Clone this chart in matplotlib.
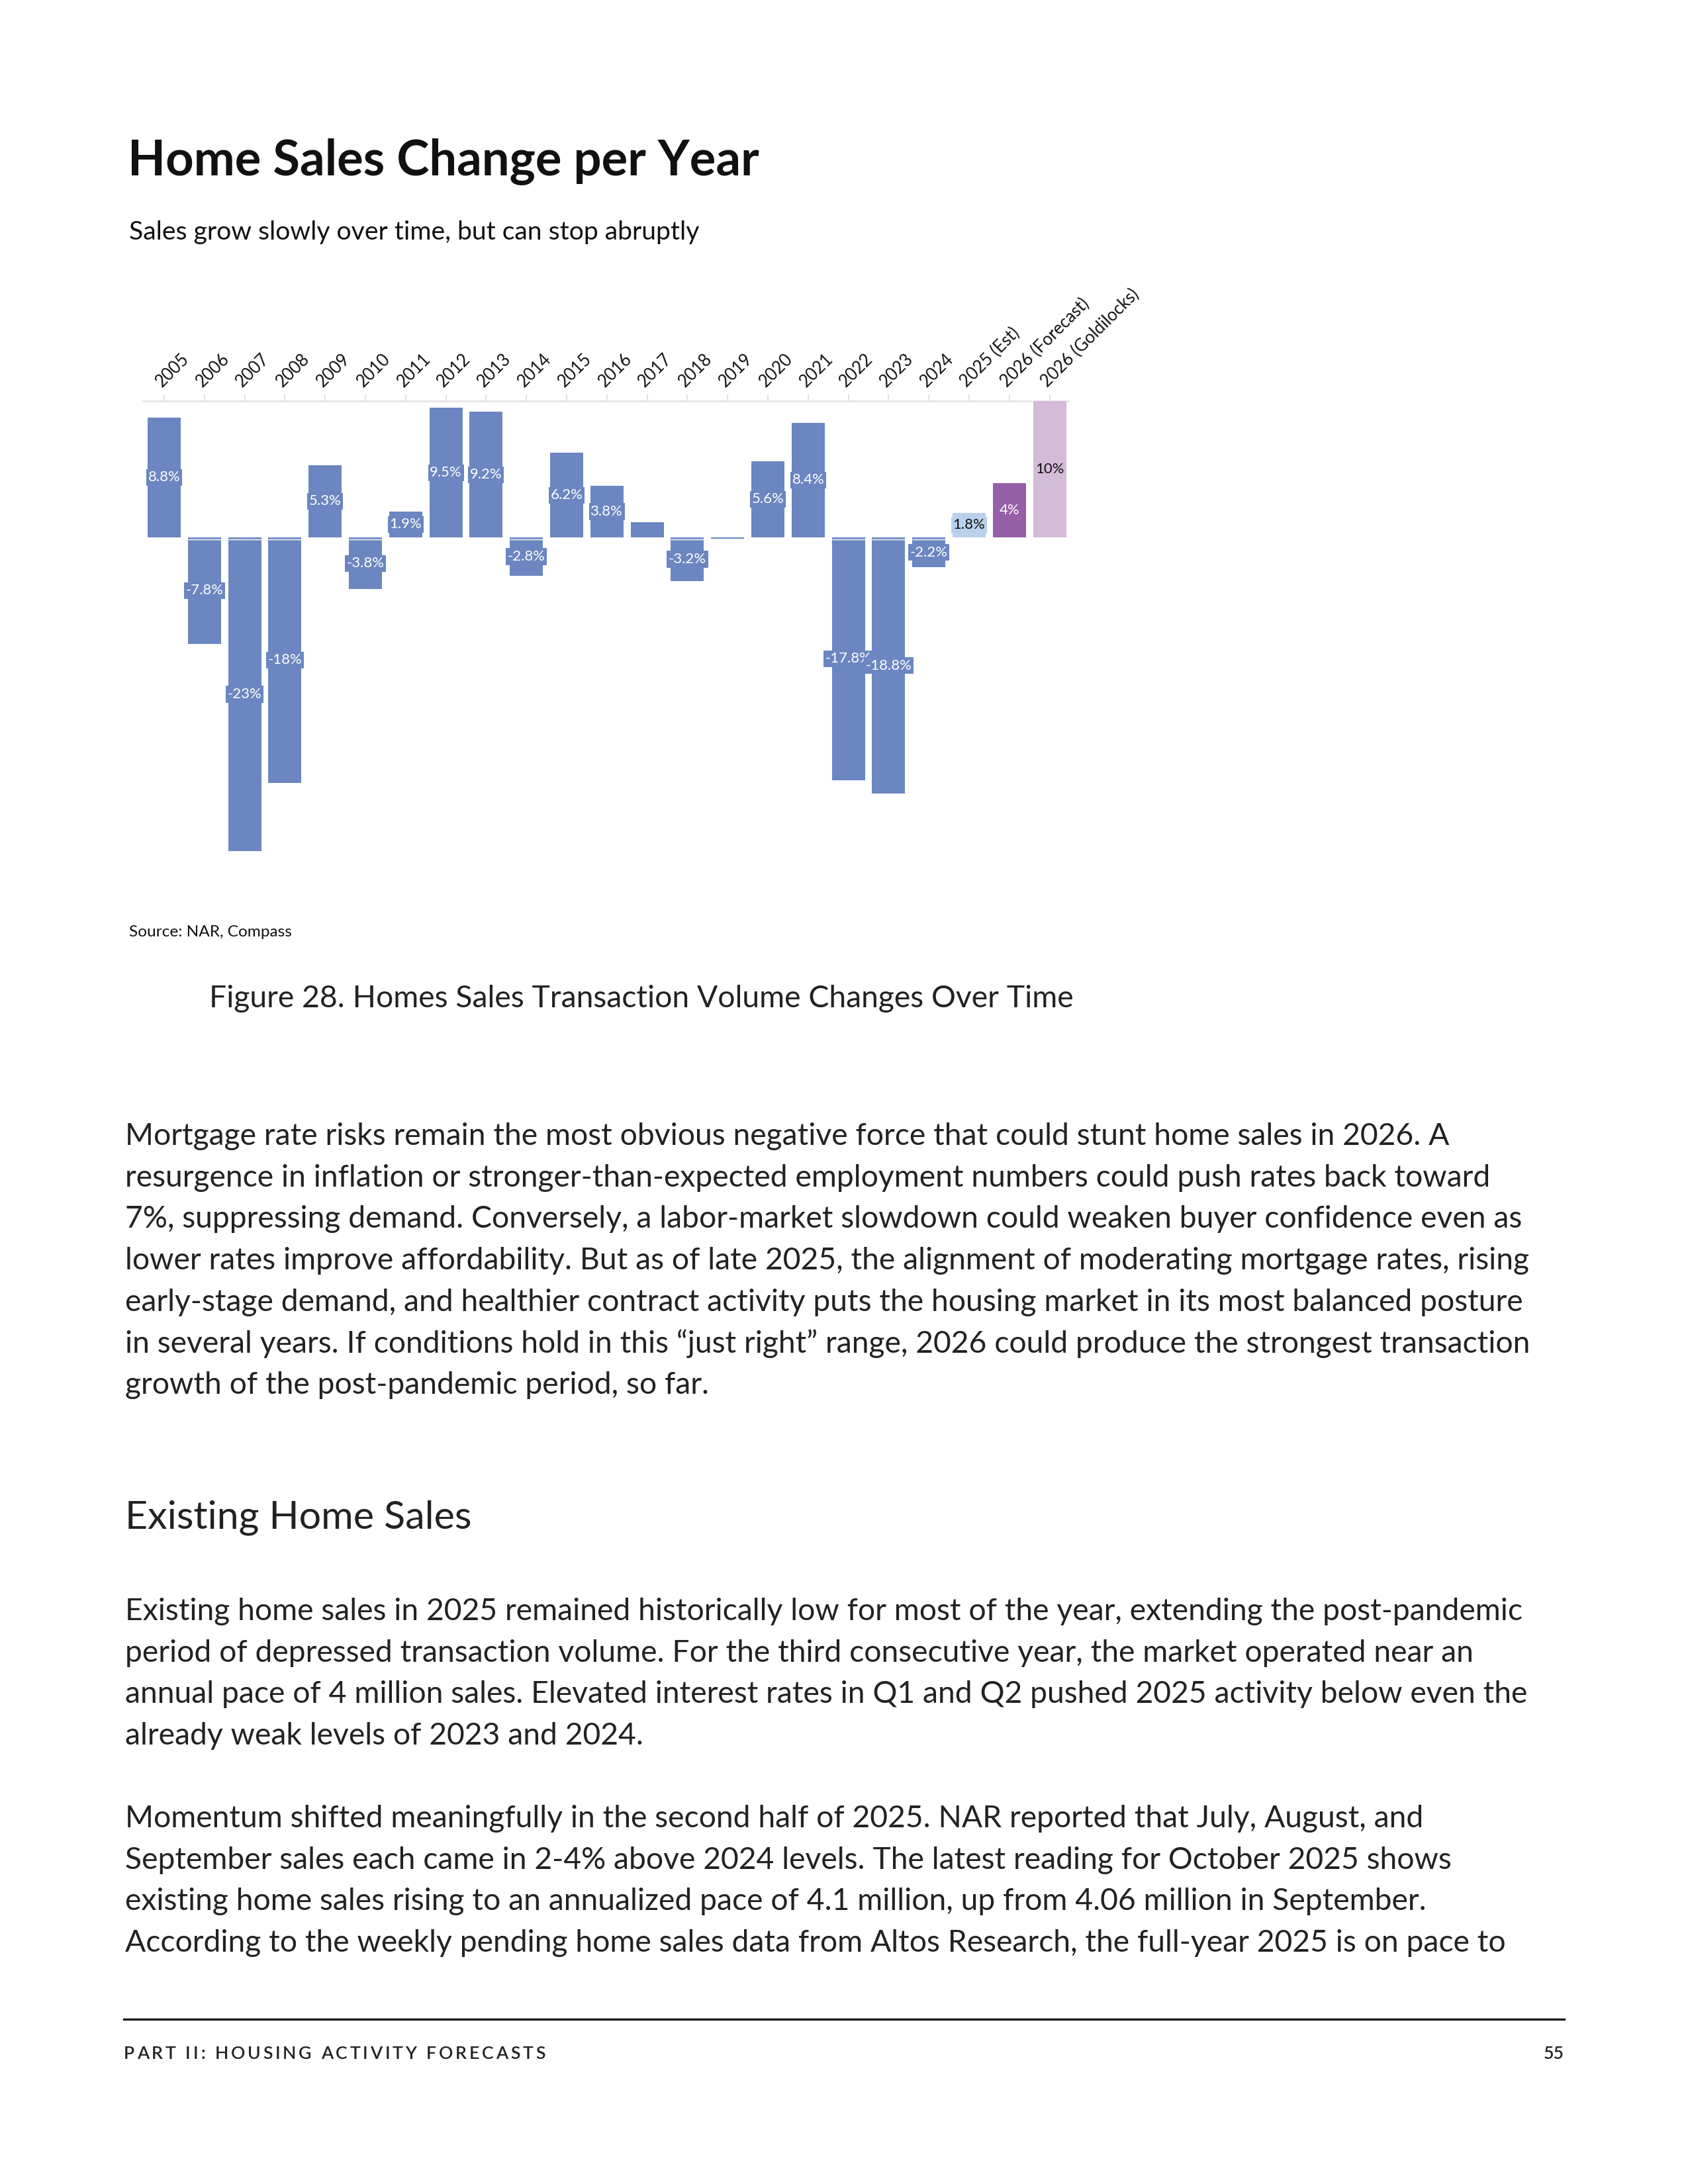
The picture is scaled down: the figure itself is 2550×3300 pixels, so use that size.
import matplotlib
matplotlib.use("Agg")
import matplotlib.pyplot as plt
from matplotlib.lines import Line2D
import numpy as np

# page size in pixels (8.5 x 11 in at 300 dpi)
W, H = 2550, 3300
DPI = 300

plt.rcParams['font.family'] = ['Lato', 'DejaVu Sans']

# chart data
years = ["2005", "2006", "2007", "2008", "2009", "2010", "2011", "2012", "2013",
         "2014", "2015", "2016", "2017", "2018", "2019", "2020", "2021", "2022",
         "2023", "2024", "2025 (Est)", "2026 (Forecast)", "2026 (Goldilocks)"]
changes = [8.8, -7.8, -23.0, -18.0, 5.3, -3.8, 1.9, 9.5, 9.2, -2.8, 6.2, 3.8,
           1.1, -3.2, -0.1, 5.6, 8.4, -17.8, -18.8, -2.2, 1.8, 4.0, 10.0]
value_labels = ["8.8%", "-7.8%", "-23%", "-18%", "5.3%", "-3.8%", "1.9%", "9.5%",
                "9.2%", "-2.8%", "6.2%", "3.8%", "", "-3.2%", "", "5.6%", "8.4%",
                "-17.8%", "-18.8%", "-2.2%", "1.8%", "4%", "10%"]

# page text
title = "Home Sales Change per Year"
subtitle = "Sales grow slowly over time, but can stop abruptly"
source = "Source: NAR, Compass"
caption = "Figure 28. Homes Sales Transaction Volume Changes Over Time"
para1 = [
    "Mortgage rate risks remain the most obvious negative force that could stunt home sales in 2026. A",
    "resurgence in inflation or stronger-than-expected employment numbers could push rates back toward",
    "7%, suppressing demand. Conversely, a labor-market slowdown could weaken buyer confidence even as",
    "lower rates improve affordability. But as of late 2025, the alignment of moderating mortgage rates, rising",
    "early-stage demand, and healthier contract activity puts the housing market in its most balanced posture",
    "in several years. If conditions hold in this \u201cjust right\u201d range, 2026 could produce the strongest transaction",
    "growth of the post-pandemic period, so far.",
]
heading = "Existing Home Sales"
para2 = [
    "Existing home sales in 2025 remained historically low for most of the year, extending the post-pandemic",
    "period of depressed transaction volume. For the third consecutive year, the market operated near an",
    "annual pace of 4 million sales. Elevated interest rates in Q1 and Q2 pushed 2025 activity below even the",
    "already weak levels of 2023 and 2024.",
]
para3 = [
    "Momentum shifted meaningfully in the second half of 2025. NAR reported that July, August, and",
    "September sales each came in 2-4% above 2024 levels. The latest reading for October 2025 shows",
    "existing home sales rising to an annualized pace of 4.1 million, up from 4.06 million in September.",
    "According to the weekly pending home sales data from Altos Research, the full-year 2025 is on pace to",
]
footer_left = "PART II: HOUSING ACTIVITY FORECASTS"
footer_right = "55"

# colours
blue = '#6b86c0'
special_colors = ['#b9d1eb', '#9660a8', '#d4bbd8']
special_text = ['#111111', 'white', '#111111']


def fx(x):
    return x / W


def fy(y):
    return 1 - y / H


fig = plt.figure(figsize=(W / DPI, H / DPI), dpi=DPI)
renderer = fig.canvas.get_renderer()

# chart axes placed in page pixels
x = np.arange(len(years))
step = 60.8
x0 = 248.0
xlim = (-0.53, 22.45)
ylim = (-23.2, 10.0)
ax_left = x0 + xlim[0] * step
ax_right = x0 + xlim[1] * step
ax_top = 606.0
ax_bottom = 1290.0
ax = fig.add_axes([fx(ax_left), fy(ax_bottom), (ax_right - ax_left) / W,
                   (ax_bottom - ax_top) / H])

colors = [blue] * (len(years) - 3) + special_colors
text_colors = ['white'] * (len(years) - 3) + special_text

bars = ax.bar(x, changes, width=0.82, color=colors, zorder=2)

# small white gap under the zero cap of negative bars
for xi, v in zip(x, changes):
    if v < -0.3:
        ax.hlines(-0.16, xi - 0.41, xi + 0.41, color='white', lw=0.35, zorder=3)

for xi, v, lab, c, tc in zip(x, changes, value_labels, colors, text_colors):
    if not lab:
        continue
    ax.text(xi, v / 2, lab, ha='center', va='center', fontsize=5.3, color=tc,
            zorder=4,
            bbox=dict(boxstyle='square,pad=0.12', fc=c, ec='none'))

ax.set_xlim(xlim)
ax.set_ylim(ylim)
ax.set_yticks([])
for s in ['left', 'right', 'bottom']:
    ax.spines[s].set_visible(False)
ax.spines['top'].set_color('#e9e9e9')
ax.spines['top'].set_linewidth(0.8)
ax.spines['top'].set_zorder(1)
ax.xaxis.tick_top()
ax.set_xticks(x)
ax.set_xticklabels(years, rotation=45, ha='left', va='bottom',
                   rotation_mode='anchor', fontsize=6.2, color='#111111')
ax.tick_params(axis='x', length=2.4, width=0.5, color='#e2e2e2', pad=1.5)
ax.patch.set_alpha(0)

# headings and notes
fig.text(fx(193), fy(265), title, fontsize=17.8, fontweight='bold',
         color='#111111', ha='left', va='baseline')
fig.text(fx(195), fy(362), subtitle, fontsize=9.4, color='#111111',
         ha='left', va='baseline')
fig.text(fx(195), fy(1415), source, fontsize=5.85, color='#111111',
         ha='left', va='baseline')
fig.text(fx(316), fy(1522), caption, fontsize=11.1, color='#222222',
         ha='left', va='baseline')

# body text
line_gap = 62.7
body_size = 11.1
for i, line in enumerate(para1):
    fig.text(fx(189), fy(1730 + i * line_gap), line, fontsize=body_size,
             color='#222222', ha='left', va='baseline')
fig.text(fx(189), fy(2310), heading, fontsize=14.2, color='#222222',
         ha='left', va='baseline')
for i, line in enumerate(para2):
    fig.text(fx(189), fy(2448 + i * line_gap), line, fontsize=body_size,
             color='#222222', ha='left', va='baseline')
for i, line in enumerate(para3):
    fig.text(fx(189), fy(2761 + i * line_gap), line, fontsize=body_size,
             color='#222222', ha='left', va='baseline')

# footer rule
fig.add_artist(Line2D([fx(187), fx(2363)], [fy(3051), fy(3051)], lw=0.8,
                      color='#1a1a1a'))

# letter-spaced footer label, placed one character at a time
cx = 187.0
tracking = 3.8
for ch in footer_left:
    t = fig.text(fx(cx), fy(3111), ch, fontsize=6.4, color='#222222',
                 ha='left', va='baseline', fontweight='semibold')
    if ch == ' ':
        adv = 6.4 / 72 * DPI * 0.26
    else:
        adv = t.get_window_extent(renderer).width
    cx += adv + tracking
fig.text(fx(2363), fy(3111), footer_right, fontsize=6.4, color='#222222',
         ha='right', va='baseline', fontweight='semibold')

fig.savefig("out.png", dpi=DPI, facecolor='white')
